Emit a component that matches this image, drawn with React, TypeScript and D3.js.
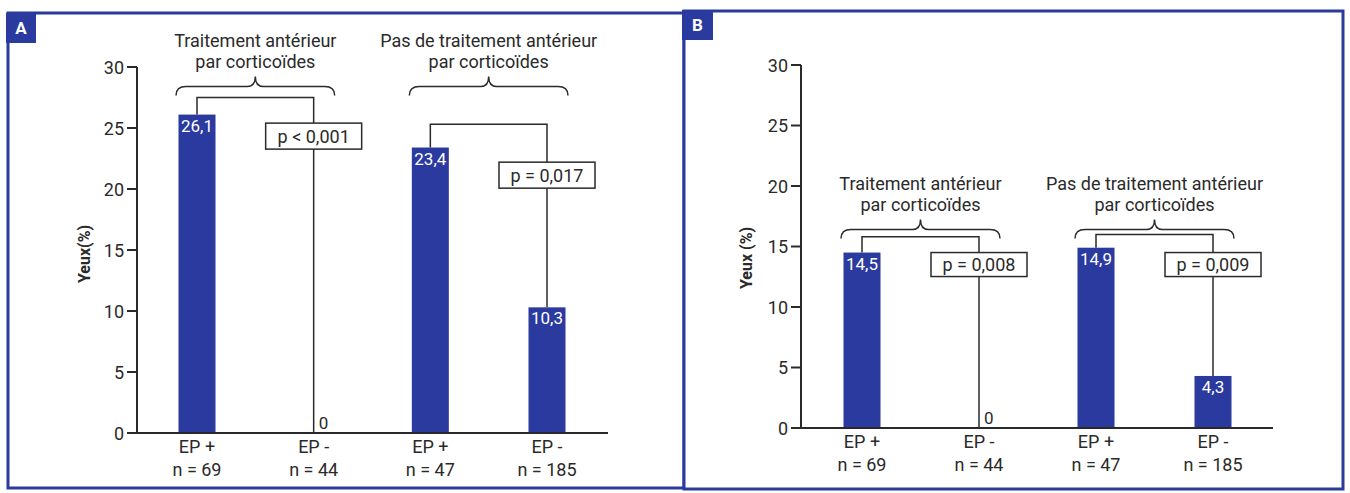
import React from "react";
import * as d3 from "d3";

const categories = ["EP +", "EP -", "EP +", "EP -"];
const sampleSizes = ["n = 69", "n = 44", "n = 47", "n = 185"];
const valuesA = [26.1, 0, 23.4, 10.3];
const valuesB = [14.5, 0, 14.9, 4.3];
const groupTitles = [
  ["Traitement antérieur", "par corticoïdes"],
  ["Pas de traitement antérieur", "par corticoïdes"],
];
const pValuesA = ["p < 0,001", "p = 0,017"];
const pValuesB = ["p = 0,008", "p = 0,009"];
const yTicks = [0, 5, 10, 15, 20, 25, 30];
// annotation levels in data units
const bracketLevelsA = [27.5, 25.3];
const boxLevelsA = [25.4, 22.2];
const braceLevelA = 28.4;
const bracketLevelsB = [15.8, 16.0];
const boxLevelsB = [14.5, 14.5];
const braceLevelB = 16.4;

const BLUE = "#2a3a9f";
const INK = "#2a2a2a";
const FONT = "Roboto, 'DejaVu Sans', sans-serif";

type PanelProps = {
  letter: string;
  frame: { x: number; y: number; w: number; h: number };
  badge: { x: number; y: number; w: number; h: number };
  xRange: [number, number];
  yRange: [number, number];
  axisX: number;
  axisEnd: number;
  values: number[];
  pValues: string[];
  bracketLevels: number[];
  boxLevels: number[];
  braceLevel: number;
  yLabel: string;
  yLabelPos: [number, number];
  boxH: number;
};

function fmt(v: number) {
  return d3.format(".1f")(v).replace(".", ",");
}

function bracePath(x0: number, x1: number, yB: number) {
  const xc = (x0 + x1) / 2;
  const p = d3.path();
  p.moveTo(x0, yB + 9);
  p.quadraticCurveTo(x0, yB, x0 + 10, yB);
  p.lineTo(xc - 8, yB);
  p.quadraticCurveTo(xc, yB, xc, yB - 10);
  p.quadraticCurveTo(xc, yB, xc + 8, yB);
  p.lineTo(x1 - 10, yB);
  p.quadraticCurveTo(x1, yB, x1, yB + 9);
  return p.toString();
}

function Panel(props: PanelProps) {
  const {
    letter, frame, badge, xRange, yRange, axisX, axisEnd, values, pValues,
    bracketLevels, boxLevels, braceLevel, yLabel, yLabelPos, boxH,
  } = props;
  const x = d3.scalePoint<number>().domain(d3.range(categories.length)).range(xRange);
  const y = d3.scaleLinear().domain([0, 30]).range(yRange);
  const barW = 37;
  const y0 = y(0);
  const boxW = 96;
  const fs = 18;

  return (
    <g>
      <rect x={frame.x} y={frame.y} width={frame.w} height={frame.h} fill="white" stroke={BLUE} strokeWidth={3} />
      <rect x={badge.x} y={badge.y} width={badge.w} height={badge.h} fill={BLUE} />
      <text x={badge.x + badge.w / 2} y={badge.y + badge.h / 2 + 6} textAnchor="middle" fill="white" fontWeight="bold" fontSize={17} fontFamily={FONT}>{letter}</text>

      {/* y axis */}
      <line x1={axisX} x2={axisX} y1={y(30)} y2={y0 + 1} stroke={INK} strokeWidth={2} />
      {yTicks.map((t) => (
        <g key={t}>
          <line x1={axisX - 10} x2={axisX} y1={y(t)} y2={y(t)} stroke={INK} strokeWidth={2} />
          <text x={axisX - 13} y={y(t) + 6.5} textAnchor="end" fontSize={fs} fill={INK} fontFamily={FONT}>{t}</text>
        </g>
      ))}
      <text transform={`translate(${yLabelPos[0]},${yLabelPos[1]}) rotate(-90)`} textAnchor="middle" fontSize={16} fontWeight="bold" fill={INK} fontFamily={FONT}>{yLabel}</text>

      {/* bars */}
      {values.map((v, i) => (
        <g key={i}>
          {v > 0 && (
            <rect x={x(i)! - barW / 2} y={y(v)} width={barW} height={y0 - y(v)} fill={BLUE} />
          )}
          {v > 0 ? (
            <text x={x(i)!} y={y(v) + 17} textAnchor="middle" fill="white" fontSize={17} fontFamily={FONT}>{fmt(v)}</text>
          ) : (
            <text x={x(i)! + 5} y={y0 - 4} textAnchor="start" fill={INK} fontSize={17} fontFamily={FONT}>0</text>
          )}
          <text x={x(i)!} y={y0 + 20} textAnchor="middle" fontSize={fs} fill={INK} fontFamily={FONT}>{categories[i]}</text>
          <text x={x(i)!} y={y0 + 43} textAnchor="middle" fontSize={fs} fill={INK} fontFamily={FONT}>{sampleSizes[i]}</text>
        </g>
      ))}

      {/* x axis */}
      <line x1={axisX - 10} x2={axisEnd} y1={y0} y2={y0} stroke={INK} strokeWidth={2} />

      {/* group annotations */}
      {[0, 1].map((g) => {
        const i0 = g * 2;
        const i1 = g * 2 + 1;
        const xa = x(i0)!;
        const xb = x(i1)!;
        const yBr = y(bracketLevels[g]);
        const yBox = y(boxLevels[g]);
        const yEnd = values[i1] > 0 ? y(values[i1]) : y0;
        const yBrace = y(braceLevel);
        const bx0 = xa - 21;
        const bx1 = xb + 21;
        const xc = (bx0 + bx1) / 2;
        return (
          <g key={g}>
            <path d={`M${xa},${y(values[i0])}V${yBr}H${xb}V${yBox}`} fill="none" stroke={INK} strokeWidth={1.5} />
            <line x1={xb} x2={xb} y1={yBox + boxH} y2={yEnd} stroke={INK} strokeWidth={1.5} />
            <rect x={xb - boxW / 2} y={yBox} width={boxW} height={boxH} fill="white" stroke={INK} strokeWidth={1.5} />
            <text x={xb} y={yBox + boxH / 2 + 6.5} textAnchor="middle" fontSize={fs} fill={INK} fontFamily={FONT}>{pValues[g]}</text>
            <path d={bracePath(bx0, bx1, yBrace)} fill="none" stroke={INK} strokeWidth={1.5} />
            <text x={xc} y={yBrace - 40} textAnchor="middle" fontSize={fs} fill={INK} fontFamily={FONT}>{groupTitles[g][0]}</text>
            <text x={xc} y={yBrace - 19} textAnchor="middle" fontSize={fs} fill={INK} fontFamily={FONT}>{groupTitles[g][1]}</text>
          </g>
        );
      })}
    </g>
  );
}

export default function App() {
  return (
    <svg width={1350} height={493} style={{ position: "absolute", left: 0, top: 0, background: "white" }}>
      <rect x={0} y={0} width={1350} height={493} fill="white" />
      <Panel
        letter="A"
        frame={{ x: 8, y: 13, w: 676, h: 475 }}
        badge={{ x: 6, y: 13, w: 30, h: 30 }}
        xRange={[197, 547]}
        yRange={[433, 67]}
        axisX={137}
        axisEnd={608}
        values={valuesA}
        pValues={pValuesA}
        bracketLevels={bracketLevelsA}
        boxLevels={boxLevelsA}
        braceLevel={braceLevelA}
        yLabel="Yeux(%)"
        yLabelPos={[90, 254]}
        boxH={26}
      />
      <Panel
        letter="B"
        frame={{ x: 684, y: 11, w: 659, h: 478 }}
        badge={{ x: 682, y: 10, w: 31, h: 30 }}
        xRange={[862, 1213]}
        yRange={[428, 65]}
        axisX={801}
        axisEnd={1273}
        values={valuesB}
        pValues={pValuesB}
        bracketLevels={bracketLevelsB}
        boxLevels={boxLevelsB}
        braceLevel={braceLevelB}
        yLabel="Yeux (%)"
        yLabelPos={[752, 258]}
        boxH={24}
      />
    </svg>
  );
}
